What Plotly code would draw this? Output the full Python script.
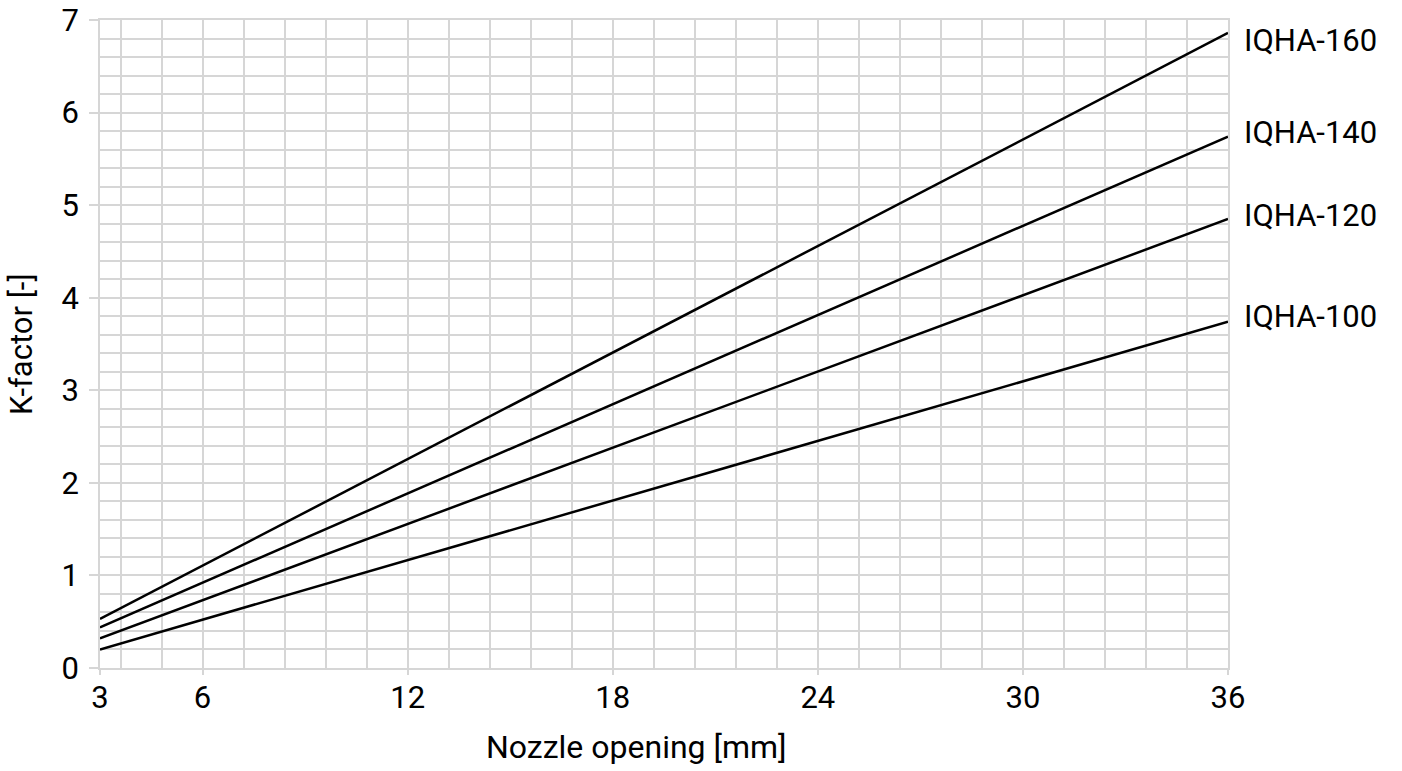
import plotly.graph_objects as go

# Data
nozzle_mm = [3, 36]
series_names = ["IQHA-160", "IQHA-140", "IQHA-120", "IQHA-100"]
k_iqha160 = [0.53, 6.86]
k_iqha140 = [0.44, 5.74]
k_iqha120 = [0.32, 4.85]
k_iqha100 = [0.20, 3.74]
x_tickvals = [3, 6, 12, 18, 24, 30, 36]
y_tickvals = [0, 1, 2, 3, 4, 5, 6, 7]

series_values = [k_iqha160, k_iqha140, k_iqha120, k_iqha100]
label_yshift = [-8, 4, 4, 5]

FONT = "Roboto, 'DejaVu Sans', sans-serif"
FS = 31
GRID = "#d6d6d6"

fig = go.Figure()
for name, vals, ys in zip(series_names, series_values, label_yshift):
    fig.add_trace(go.Scatter(x=nozzle_mm, y=vals, mode="lines", name=name,
                             line=dict(color="black", width=2.5),
                             showlegend=False, hoverinfo="skip"))
    fig.add_annotation(x=nozzle_mm[-1], y=vals[-1], text=name, showarrow=False,
                       xanchor="left", yanchor="middle", xshift=14, yshift=ys,
                       font=dict(family=FONT, size=FS, color="black"))

# Axis titles
fig.add_annotation(xref="paper", yref="paper", x=0.476, y=0, yshift=-79,
                   text="Nozzle opening [mm]", showarrow=False,
                   xanchor="center", yanchor="middle",
                   font=dict(family=FONT, size=FS + 1, color="black"))
fig.add_annotation(xref="paper", yref="paper", x=0, y=0.5, xshift=-79,
                   text="K-factor [-]", showarrow=False, textangle=-90,
                   xanchor="center", yanchor="middle",
                   font=dict(family=FONT, size=FS, color="black"))

fig.update_layout(
    width=1402, height=771,
    margin=dict(l=100, r=174, t=20, b=103),
    plot_bgcolor="white", paper_bgcolor="white",
    font=dict(family=FONT, size=FS, color="black"),
)
fig.update_xaxes(range=[3, 36], tickvals=x_tickvals, ticktext=[str(v) for v in x_tickvals],
                 automargin=False,
                 showgrid=True, gridcolor=GRID, gridwidth=1.5,
                 showline=True, linecolor=GRID, linewidth=1.5, mirror=True,
                 ticks="outside", ticklen=5, tickcolor=GRID, tickwidth=1.5,
                 ticklabelstandoff=-4,
                 zeroline=False,
                 minor=dict(tick0=0, dtick=1.2, showgrid=True, gridcolor=GRID, gridwidth=1.5))
fig.update_yaxes(range=[0, 7], tickvals=y_tickvals,
                 automargin=False,
                 showgrid=True, gridcolor=GRID, gridwidth=1.5,
                 showline=True, linecolor=GRID, linewidth=1.5, mirror=True,
                 ticks="outside", ticklen=9, tickcolor=GRID, tickwidth=1.5,
                 ticklabelstandoff=4,
                 zeroline=False,
                 minor=dict(tick0=0, dtick=0.2, showgrid=True, gridcolor=GRID, gridwidth=1.5))

fig.write_html("out.html", config={"displayModeBar": False},
               post_script="document.body.style.margin='0';")
